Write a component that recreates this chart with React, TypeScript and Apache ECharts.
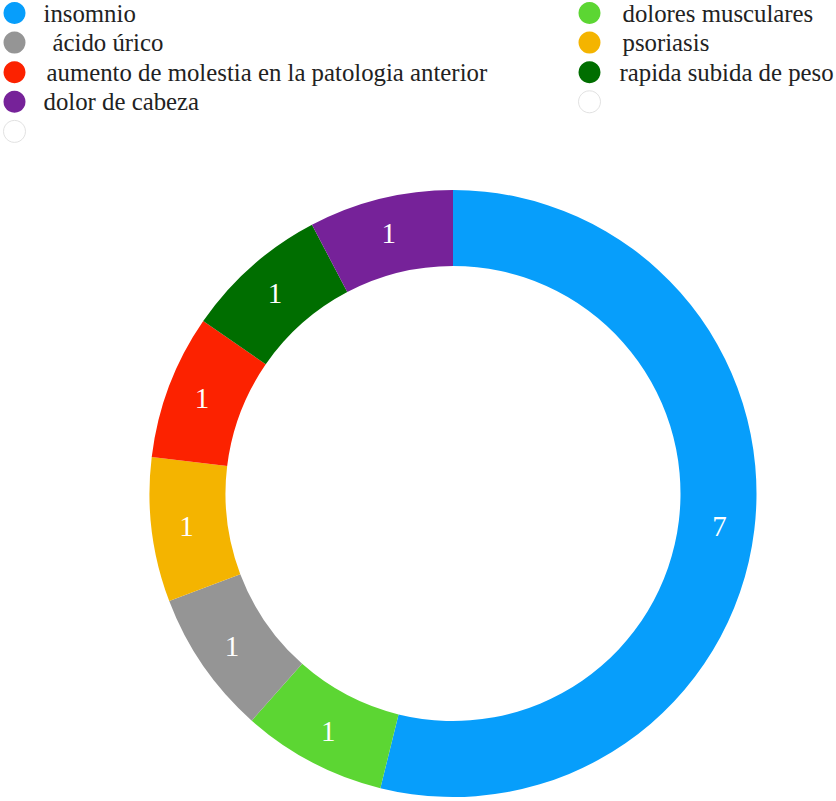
import React, { useEffect, useRef } from "react";
import * as echarts from "echarts";

const categories = [
  "insomnio",
  "dolores musculares",
  "ácido úrico",
  "psoriasis",
  "aumento de molestia en la patologia anterior",
  "rapida subida de peso",
  "dolor de cabeza",
  " ",
  "  ",
];
const values = [7, 1, 1, 1, 1, 1, 1, 0, 0];
const colors = [
  "#079efb",
  "#5cd633",
  "#959595",
  "#f4b400",
  "#fc2200",
  "#006e00",
  "#762299",
  "#ffffff",
  "#ffffff",
];
// legend columns (row-major 2-column layout in the reference)
const leftLegend = [0, 2, 4, 6, 7];
const rightLegend = [1, 3, 5, 8];
const leftPad = [13, 22, 16, 13, 13];
const rightPad = [17, 17, 14, 14];

export default function App() {
  const ref = useRef<HTMLDivElement>(null);
  useEffect(() => {
    if (!ref.current) return;
    const chart = echarts.init(ref.current, undefined, { renderer: "svg" });
    const font = "Liberation Serif";
    const baseText = {
      fontFamily: font,
      fontSize: 24.8,
      color: "#222",
      lineHeight: 22,
    };
    const legendItem = (i: number, pad: number) => ({
      name: categories[i],
      textStyle: { ...baseText, padding: [0, 0, 0, pad] },
      itemStyle:
        values[i] === 0
          ? { color: "#ffffff", borderColor: "#e2e2e2", borderWidth: 1 }
          : undefined,
    });
    const legendBase = {
      orient: "vertical" as const,
      top: 0.5,
      padding: 0,
      icon: "circle",
      itemWidth: 22,
      itemHeight: 22,
      itemGap: 4.6,
      selectedMode: false,
      textStyle: baseText,
    };
    chart.setOption({
      animation: false,
      color: colors,
      textStyle: { fontFamily: font },
      legend: [
        {
          ...legendBase,
          left: 3,
          data: leftLegend.map((i, k) => legendItem(i, leftPad[k])),
        },
        {
          ...legendBase,
          left: 578,
          data: rightLegend.map((i, k) => legendItem(i, rightPad[k])),
        },
      ],
      series: [
        {
          type: "pie",
          center: [453, 493.5],
          radius: [227.5, 303.5],
          startAngle: 90,
          clockwise: true,
          avoidLabelOverlap: false,
          emphasis: { disabled: true },
          itemStyle: { borderWidth: 0 },
          label: {
            show: true,
            position: "inside",
            formatter: "{c}",
            color: "#ffffff",
            fontFamily: font,
            fontSize: 29,
          },
          labelLine: { show: false },
          data: categories.map((name, i) => ({
            name,
            value: values[i],
            itemStyle: { color: colors[i] },
            label: values[i] === 0 ? { show: false } : undefined,
          })),
        },
      ],
    });
    return () => chart.dispose();
  }, []);
  return (
    <div
      ref={ref}
      style={{ position: "fixed", left: 0, top: 0, width: 836, height: 801, background: "#fff" }}
    />
  );
}
